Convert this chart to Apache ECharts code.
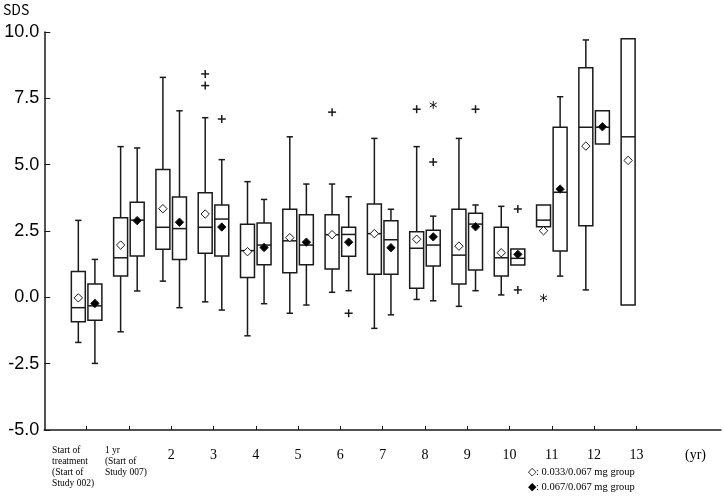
<!DOCTYPE html>
<html>
<head>
<meta charset="utf-8">
<script src="https://cdn.jsdelivr.net/npm/echarts@6/dist/echarts.min.js"></script>
<style>
  html, body { margin: 0; padding: 0; background: #fff; }
  #main { width: 724px; height: 496px; }
</style>
</head>
<body>
<div id="main"></div>
<script>
// x categories (blank slots at both ends leave room like the original)
var categories = ['', 'Start of\ntreatment\n(Start of\nStudy 002)', '1 yr\n(Start of\nStudy 007)',
  '2', '3', '4', '5', '6', '7', '8', '9', '10', '11', '12', '13', '', ''];

// [min, q1, median, q3, max, mean] for Start, 1, 2 ... 13
var boxA = [
  [-1.70, -0.92, -0.39, 0.97, 2.90, -0.02],
  [-1.30, 0.80, 1.49, 3.00, 5.68, 1.97],
  [0.61, 1.81, 2.64, 4.82, 8.29, 3.34],
  [-0.17, 1.66, 2.64, 3.94, 6.77, 3.14],
  [-1.45, 0.75, 1.76, 2.75, 4.36, 1.72],
  [-0.60, 0.93, 2.13, 3.32, 6.05, 2.25],
  [0.19, 1.07, 2.36, 3.11, 4.27, 2.36],
  [-1.17, 0.87, 2.40, 3.52, 5.99, 2.40],
  [-0.08, 0.34, 1.85, 2.47, 5.68, 2.19],
  [-0.34, 0.50, 1.59, 3.32, 5.99, 1.93],
  [0.09, 0.80, 1.49, 2.64, 3.43, 1.68],
  [null, 2.66, 2.91, 3.48, 3.42, 2.51],
  [0.28, 2.70, 6.41, 8.65, 9.70, 5.70],
  [null, -0.29, 6.05, 9.75, null, 5.16]
];
var boxB = [
  [-2.49, -0.86, -0.32, 0.50, 1.43, -0.23],
  [0.24, 1.56, 2.91, 3.58, 5.63, 2.89],
  [-0.39, 1.43, 2.59, 3.78, 7.03, 2.83],
  [-0.48, 1.56, 2.95, 3.48, 5.19, 2.65],
  [-0.24, 1.23, 1.97, 2.80, 3.69, 1.88],
  [-0.29, 1.23, 1.97, 3.11, 4.27, 2.08],
  [0.25, 1.55, 2.37, 2.64, 3.79, 2.08],
  [-0.66, 0.87, 2.17, 2.89, 3.32, 1.87],
  [-0.13, 1.18, 1.97, 2.53, 3.06, 2.28],
  [0.25, 1.03, 2.76, 3.17, 3.48, 2.66],
  [null, 1.22, 1.47, 1.82, null, 1.62],
  [0.80, 1.75, 3.96, 6.41, 7.56, 4.08],
  [null, 5.78, 6.41, 7.03, null, 6.43],
  null
];

// outliers: [category label, group (0 = A, 1 = B), value, mark (0 = '+', 1 = '*')]
var outliers = [
  ['3', 0, 8.42, 0], ['3', 0, 7.98, 0], ['3', 1, 6.72, 0],
  ['6', 0, 6.98, 0], ['6', 1, -0.60, 0],
  ['8', 0, 7.09, 0], ['8', 1, 7.25, 1], ['8', 1, 5.10, 0],
  ['9', 1, 7.09, 0],
  ['10', 1, 3.33, 0], ['10', 1, 0.28, 0],
  ['11', 0, -0.02, 1]
];

var yTicks = [-5, -2.5, 0, 2.5, 5, 7.5, 10];

var ink = '#1a1a1a';
var lw = 1.5;
var shiftFrac = 0.196;

function toRows(box) {
  var rows = [];
  box.forEach(function (r, i) {
    if (r) rows.push([i + 1].concat(r));
  });
  return rows;
}

function boxRender(shift, filled) {
  return function (params, api) {
    var idx = api.value(0);
    var band = api.size([1, 0])[0];
    var cx = api.coord([idx, 0])[0] + shift * band;
    var half = band * 0.165, cap = band * 0.15;
    var y = function (v) { return api.coord([idx, v])[1]; };
    var lo = api.value(1), q1 = api.value(2), med = api.value(3),
        q3 = api.value(4), hi = api.value(5), mean = api.value(6);
    var st = { stroke: ink, lineWidth: lw, fill: null };
    var kids = [];
    function line(x1, y1, x2, y2) {
      kids.push({ type: 'line', shape: { x1: x1, y1: y1, x2: x2, y2: y2 }, style: st });
    }
    if (!isNaN(hi) && hi != null) {
      line(cx, y(q3), cx, y(hi));
      line(cx - cap / 2, y(hi), cx + cap / 2, y(hi));
    }
    if (!isNaN(lo) && lo != null) {
      line(cx, y(q1), cx, y(lo));
      line(cx - cap / 2, y(lo), cx + cap / 2, y(lo));
    }
    kids.push({ type: 'rect', shape: { x: cx - half, y: y(q3), width: half * 2, height: y(q1) - y(q3) },
      style: { stroke: ink, lineWidth: lw, fill: '#fff' } });
    line(cx - half, y(med), cx + half, y(med));
    var my = y(mean), d = 4.2;
    kids.push({ type: 'polygon', shape: { points: [[cx, my - d], [cx + d, my], [cx, my + d], [cx - d, my]] },
      style: { stroke: ink, lineWidth: 1, fill: filled ? '#000' : '#fff' } });
    return { type: 'group', children: kids };
  };
}

function outlierRender(params, api) {
  var idx = api.value(0);
  var band = api.size([1, 0])[0];
  var shift = api.value(2) === 0 ? -shiftFrac : shiftFrac;
  var p = api.coord([idx, api.value(1)]);
  var cx = p[0] + shift * band, cy = p[1], r = 4;
  var st = { stroke: ink, lineWidth: 1.5 };
  var kids = [];
  if (api.value(3) === 0) {
    kids.push({ type: 'line', shape: { x1: cx - r, y1: cy, x2: cx + r, y2: cy }, style: st });
    kids.push({ type: 'line', shape: { x1: cx, y1: cy - r, x2: cx, y2: cy + r }, style: st });
  } else {
    st = { stroke: ink, lineWidth: 1 };
    kids.push({ type: 'line', shape: { x1: cx, y1: cy - r, x2: cx, y2: cy + r }, style: st });
    kids.push({ type: 'line', shape: { x1: cx - r * 0.87, y1: cy - r / 2, x2: cx + r * 0.87, y2: cy + r / 2 }, style: st });
    kids.push({ type: 'line', shape: { x1: cx - r * 0.87, y1: cy + r / 2, x2: cx + r * 0.87, y2: cy - r / 2 }, style: st });
  }
  return { type: 'group', children: kids };
}

var option = {
  animation: false,
  backgroundColor: '#fff',
  grid: { left: 44, right: 2, top: 32, bottom: 66 },
  xAxis: {
    type: 'category',
    data: categories,
    boundaryGap: false,
    axisLine: { onZero: false, lineStyle: { color: ink, width: lw } },
    axisTick: {
      inside: true, length: 4,
      lineStyle: { color: ink, width: 1 },
      interval: function (i) { return i >= 1 && i <= 14; }
    },
    axisLabel: {
      interval: 0,
      margin: 15,
      verticalAlign: 'top',
      color: '#000',
      fontFamily: 'Liberation Serif',
      fontSize: 14,
      lineHeight: 21,
      formatter: function (v, i) {
        if (i === 1 || i === 2) return '{m' + i + '|' + v + '}';
        return v;
      },
      rich: {
        m1: { width: 69, align: 'left', fontFamily: 'Liberation Serif', fontSize: 9.5, lineHeight: 11, color: '#000' },
        m2: { width: 48, align: 'left', fontFamily: 'Liberation Serif', fontSize: 9.5, lineHeight: 11, color: '#000' }
      }
    },
    splitLine: { show: false }
  },
  yAxis: {
    type: 'value',
    min: yTicks[0],
    max: yTicks[yTicks.length - 1],
    interval: 2.5,
    name: 'SDS',
    nameLocation: 'end',
    nameGap: 22,
    nameTextStyle: {
      align: 'right', verticalAlign: 'middle', padding: [0, 15, 0, 0],
      fontFamily: 'Noto Sans CJK JP', fontSize: 14, color: '#000'
    },
    axisLine: { show: true, lineStyle: { color: ink, width: lw } },
    axisTick: { show: true, inside: true, length: 6, lineStyle: { color: ink, width: 1 } },
    axisLabel: {
      margin: 5, color: '#000', fontFamily: 'Liberation Sans', fontSize: 18,
      formatter: function (v) { return v.toFixed(1); }
    },
    splitLine: { show: false }
  },
  graphic: [
    { type: 'text', left: 685, top: 448,
      style: { text: '(yr)', font: '14px "Liberation Serif"', fill: '#000' } },
    { type: 'text', left: 528, top: 467,
      style: { text: '\u25C7: 0.033/0.067 mg group', font: '10.5px "Liberation Serif"', fill: '#000' } },
    { type: 'text', left: 528, top: 482,
      style: { text: '\u25C6: 0.067/0.067 mg group', font: '10.5px "Liberation Serif"', fill: '#000' } }
  ],
  series: [
    { name: '0.033/0.067 mg group', type: 'custom', renderItem: boxRender(-shiftFrac, false),
      encode: { x: 0, y: 3 }, data: toRows(boxA), clip: false },
    { name: '0.067/0.067 mg group', type: 'custom', renderItem: boxRender(shiftFrac, true),
      encode: { x: 0, y: 3 }, data: toRows(boxB), clip: false },
    { name: 'outliers', type: 'custom', renderItem: outlierRender,
      encode: { x: 0, y: 1 },
      data: outliers.map(function (o) { return [categories.indexOf(o[0]), o[2], o[1], o[3]]; }) }
  ]
};

var chart = echarts.init(document.getElementById('main'));
chart.setOption(option);
</script>
</body>
</html>
